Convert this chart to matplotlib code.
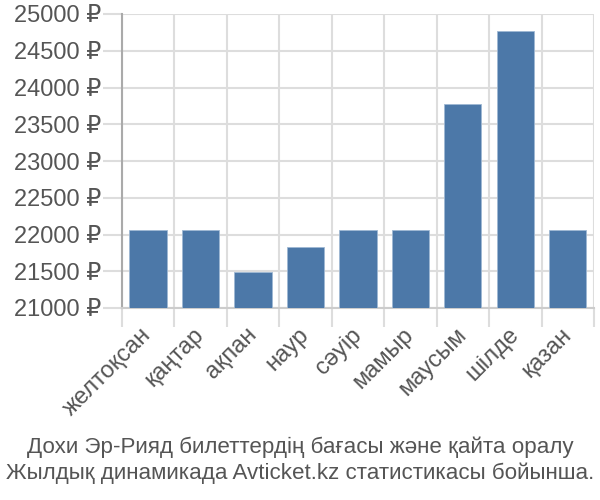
import matplotlib
matplotlib.use('Agg')
import matplotlib.pyplot as plt
import numpy as np

plt.rcParams['font.family'] = ['Liberation Sans', 'DejaVu Sans']

months = ['желтоқсан', 'қаңтар', 'ақпан', 'наур', 'сәуір', 'мамыр', 'маусым', 'шілде', 'қазан']
prices = [22057, 22057, 21494, 21834, 22057, 22057, 23776, 24769, 22057]
yticks = [21000, 21500, 22000, 22500, 23000, 23500, 24000, 24500, 25000]

fig = plt.figure(figsize=(6, 5), dpi=100)
ax = fig.add_axes([0.203, 0.384, 0.787, 0.588])

x = np.arange(len(months))
ax.bar(x, np.array(prices) - 21000, bottom=21000, width=0.71,
       color='#4c78a8', edgecolor='#9fb8d3', linewidth=0.6, zorder=3)

ax.set_xlim(-0.5, len(months) - 0.5)
ax.set_ylim(21000, 25000)
ax.set_yticks(yticks)
ax.set_yticklabels([f'{v} ₽' for v in yticks])
ax.set_xticks(x)
ax.set_xticklabels(months, rotation=45, ha='right', va='center', rotation_mode='anchor')
ax.set_xticks(np.arange(-0.5, len(months)), minor=True)

ax.tick_params(axis='x', which='major', length=0, labelsize=17, colors='#555555', pad=17)
ax.tick_params(axis='x', which='minor', length=14, color='#dddddd', width=1.5)
ax.tick_params(axis='y', length=14, color='#dddddd', width=1.5, labelsize=17, labelcolor='#555555', pad=1)

ax.grid(True, which='minor', axis='x', color='#dddddd', linewidth=1.5, zorder=0)
ax.grid(True, which='major', axis='y', color='#dddddd', linewidth=1.5, zorder=0)

for s in ['top', 'right']:
    ax.spines[s].set_visible(False)
ax.spines['left'].set_color('#aaaaaa')
ax.spines['left'].set_linewidth(1.5)
ax.spines['bottom'].set_color('#cccccc')
ax.spines['bottom'].set_linewidth(1.5)

fig.text(0.5, 0.105, 'Дохи Эр-Рияд билеттердің бағасы және қайта оралу', ha='center', va='center',
         fontsize=16.1, color='#555555')
fig.text(0.5, 0.053, 'Жылдық динамикада Avticket.kz статистикасы бойынша.', ha='center', va='center',
         fontsize=16.1, color='#555555')

fig.savefig('out.png', dpi=100)
